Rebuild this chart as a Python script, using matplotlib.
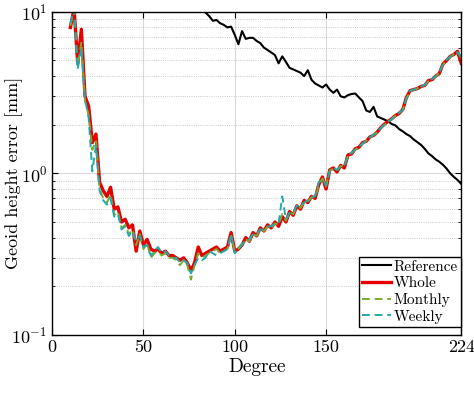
import numpy as np
import matplotlib
matplotlib.use('Agg')
import matplotlib.pyplot as plt

plt.rcParams['font.family'] = 'serif'
plt.rcParams['font.serif'] = ['cmr10', 'DejaVu Serif']
plt.rcParams['mathtext.fontset'] = 'cm'
plt.rcParams['axes.formatter.use_mathtext'] = True

# degrees of the solution curves
deg = np.arange(10, 225, 2)

whole = [8.0, 10.5, 4.8, 7.8, 3.0, 2.6, 1.55, 1.75, 0.88, 0.78,
         0.72, 0.82, 0.60, 0.62, 0.50, 0.52, 0.46, 0.48, 0.33, 0.44,
         0.36, 0.39, 0.34, 0.33, 0.34, 0.32, 0.33, 0.31, 0.31, 0.30,
         0.29, 0.30, 0.28, 0.25, 0.28, 0.35, 0.31, 0.32, 0.33, 0.34,
         0.35, 0.33, 0.34, 0.35, 0.43, 0.33, 0.34, 0.36, 0.40, 0.38,
         0.43, 0.41, 0.46, 0.44, 0.48, 0.46, 0.50, 0.47, 0.54, 0.50,
         0.58, 0.55, 0.63, 0.60, 0.68, 0.66, 0.72, 0.70, 0.85, 0.95,
         0.80, 1.05, 1.08, 1.02, 1.12, 1.08, 1.30, 1.32, 1.42, 1.45,
         1.55, 1.58, 1.68, 1.72, 1.80, 1.92, 2.02, 2.10, 2.18, 2.28,
         2.35, 2.48, 2.95, 3.25, 3.30, 3.35, 3.45, 3.50, 3.75, 3.80,
         4.00, 4.15, 4.75, 5.00, 5.30, 5.45, 5.70, 4.80]

monthly = [8.2, 10.2, 4.6, 6.5, 2.8, 2.3, 1.40, 1.60, 0.80, 0.70,
           0.66, 0.74, 0.55, 0.58, 0.46, 0.48, 0.42, 0.45, 0.36, 0.42,
           0.34, 0.37, 0.30, 0.32, 0.33, 0.31, 0.32, 0.30, 0.30, 0.29,
           0.27, 0.29, 0.27, 0.22, 0.27, 0.32, 0.30, 0.31, 0.32, 0.33,
           0.34, 0.32, 0.33, 0.34, 0.41, 0.33, 0.34, 0.37, 0.39, 0.38,
           0.42, 0.41, 0.45, 0.44, 0.47, 0.46, 0.49, 0.48, 0.56, 0.51,
           0.57, 0.56, 0.62, 0.61, 0.67, 0.67, 0.71, 0.71, 0.84, 0.93,
           0.83, 1.04, 1.07, 1.04, 1.11, 1.10, 1.28, 1.33, 1.40, 1.46,
           1.53, 1.59, 1.66, 1.73, 1.79, 1.90, 2.00, 2.09, 2.17, 2.27,
           2.36, 2.47, 2.90, 3.22, 3.28, 3.36, 3.43, 3.52, 3.72, 3.82,
           3.98, 4.18, 4.70, 5.02, 5.25, 5.48, 5.65, 5.20]

weekly = [8.5, 10.4, 4.4, 6.0, 2.9, 2.2, 1.03, 1.50, 0.78, 0.68,
          0.64, 0.70, 0.54, 0.56, 0.45, 0.47, 0.41, 0.44, 0.38, 0.41,
          0.35, 0.36, 0.31, 0.33, 0.35, 0.32, 0.33, 0.31, 0.30, 0.30,
          0.28, 0.29, 0.28, 0.24, 0.27, 0.30, 0.29, 0.30, 0.33, 0.32,
          0.31, 0.32, 0.33, 0.34, 0.42, 0.32, 0.34, 0.36, 0.39, 0.39,
          0.42, 0.42, 0.45, 0.45, 0.47, 0.47, 0.49, 0.49, 0.72, 0.52,
          0.57, 0.57, 0.63, 0.62, 0.66, 0.68, 0.72, 0.72, 0.88, 0.92,
          0.84, 1.03, 1.08, 1.05, 1.10, 1.11, 1.29, 1.34, 1.41, 1.47,
          1.52, 1.60, 1.67, 1.74, 1.80, 1.91, 2.01, 2.10, 2.16, 2.28,
          2.37, 2.46, 2.92, 3.24, 3.30, 3.37, 3.44, 3.53, 3.74, 3.83,
          4.00, 4.20, 4.72, 5.05, 5.28, 5.50, 5.62, 5.30]

# reference signal
ref_deg = np.arange(80, 225, 2)
reference = [11.5, 10.8, 9.9, 9.4, 8.8, 8.9, 8.5, 8.3, 8.0, 8.1,
             7.2, 6.3, 7.6, 6.8, 6.9, 6.9, 6.6, 6.4, 6.0, 5.8,
             5.6, 5.4, 4.8, 5.3, 4.9, 4.5, 4.4, 4.3, 4.2, 4.0,
             4.35, 3.8, 3.6, 3.5, 3.4, 3.55, 3.3, 3.15, 3.3, 3.0,
             2.95, 3.05, 3.1, 3.12, 2.95, 2.8, 2.45, 2.4, 2.58, 2.25,
             2.2, 2.15, 2.1, 2.02, 1.98, 1.88, 1.82, 1.75, 1.70, 1.62,
             1.56, 1.50, 1.42, 1.33, 1.28, 1.22, 1.18, 1.13, 1.07, 1.00,
             0.95, 0.91, 0.86]

xticks = [0, 50, 100, 150, 224]

fig = plt.figure(figsize=(4.74, 3.94), dpi=100)
ax = fig.add_axes([0.110, 0.150, 0.863, 0.820])

ax.semilogy(ref_deg, reference, color='k', lw=1.5, label='Reference')
ax.semilogy(deg, whole, color='#e60000', lw=2.4, label='Whole')
ax.semilogy(deg, monthly, color='#77ac30', lw=1.4, ls=(0, (4, 2.5)), label='Monthly')
ax.semilogy(deg, weekly, color='#22aaaa', lw=1.4, ls=(0, (4, 2.5)), label='Weekly')

ax.set_xlim(0, 224)
ax.set_ylim(0.1, 10)
ax.set_xticks(xticks)
ax.set_xticklabels([str(t) for t in xticks])

ax.grid(True, which='major', color='#d9d9d9', lw=0.8, ls='-')
ax.grid(True, which='minor', axis='y', color='#bbbbbb', lw=0.6, ls=':')
ax.tick_params(which='both', direction='in', top=True, right=True, labelsize=13)
ax.tick_params(which='major', length=4)
ax.tick_params(which='minor', length=2)
for s in ax.spines.values():
    s.set_linewidth(1.0)

ax.set_xlabel('Degree', fontsize=14, labelpad=2)
ax.set_ylabel('Geoid height error [mm]', fontsize=13)
ax.yaxis.set_label_coords(-0.072, 0.5)

leg = ax.legend(loc='lower right', bbox_to_anchor=(1.0, 0.025), fontsize=11,
                fancybox=False, framealpha=1, edgecolor='k', handlelength=1.9,
                handletextpad=0.2, labelspacing=0.18, borderpad=0.2,
                borderaxespad=0.0)
leg.get_frame().set_linewidth(1.0)

fig.savefig('out.png', dpi=100)
